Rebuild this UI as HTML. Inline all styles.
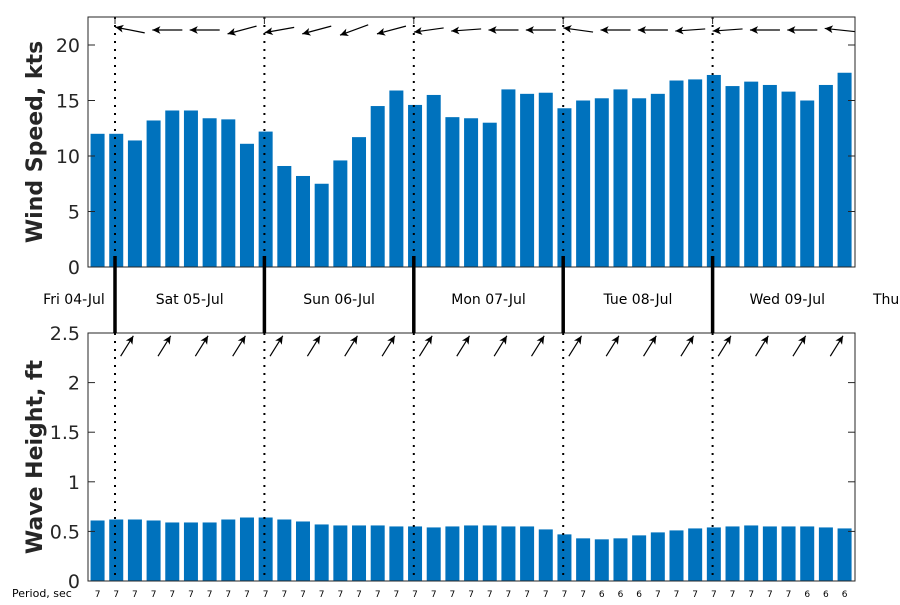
<!DOCTYPE html>
<html><head><meta charset="utf-8"><style>
body{margin:0;background:#fff;width:900px;height:600px;overflow:hidden}
svg{font-family:"DejaVu Sans","Liberation Sans",sans-serif}
</style></head><body>
<svg id="c" width="900" height="600" viewBox="0 0 900 600"></svg>
<script>
const windSpeed=[12.0,12.0,11.4,13.2,14.1,14.1,13.4,13.3,11.1,12.2,9.1,8.2,7.5,9.6,11.7,14.5,15.9,14.6,15.5,13.5,13.4,13.0,16.0,15.6,15.7,14.3,15.0,15.2,16.0,15.2,15.6,16.8,16.9,17.3,16.3,16.7,16.4,15.8,15.0,16.4,17.5];
const waveHeight=[0.61,0.62,0.62,0.61,0.59,0.59,0.59,0.62,0.64,0.64,0.62,0.60,0.57,0.56,0.56,0.56,0.55,0.55,0.54,0.55,0.56,0.56,0.55,0.55,0.52,0.47,0.43,0.42,0.43,0.46,0.49,0.51,0.53,0.54,0.55,0.56,0.55,0.55,0.55,0.54,0.53];
const periods=[7,7,7,7,7,7,7,7,7,7,7,7,7,7,7,7,7,7,7,7,7,7,7,7,7,7,7,6,6,6,7,7,7,7,7,7,7,7,6,6,6];
const windDir=[101,90,90,75,80,75,70,75,82,86,90,90,98,90,90,86,86,90,90,96];
const waveDir=[212,212,212,212,212,212,212,212,212,212,212,212,212,212,212,212,212,212,212,212];
const dayLabels=["Fri 04-Jul","Sat 05-Jul","Sun 06-Jul","Mon 07-Jul","Tue 08-Jul","Wed 09-Jul","Thu"];
const windTicks=[0,5,10,15,20];
const waveTicks=[0,0.5,1,1.5,2,2.5];

const NS="http://www.w3.org/2000/svg";
const svg=document.getElementById('c');
function el(t,a,p){const e=document.createElementNS(NS,t);for(const k in a)e.setAttribute(k,a[k]);(p||svg).appendChild(e);return e;}
const X0=88,X1=855;
const x=h=>115+h*(149.4/24); // hours from Sat 00:00
const barHour=i=>-2.8+3*i;
const yW=v=>267-v*11.1, yH=v=>581-v*99.2;
const BW=14;

// top axes
const gT=el('g',{});  
windSpeed.forEach((v,i)=>{const r=el('rect',{x:x(barHour(i))-BW/2,y:yW(v),width:BW,height:267-yW(v),fill:'#0072BD'},gT);
});
const gB=el('g',{});  
waveHeight.forEach((v,i)=>{const r=el('rect',{x:x(barHour(i))-BW/2,y:yH(v),width:BW,height:581-yH(v),fill:'#0072BD'},gB);
});
// boxes
el('rect',{x:X0,y:17,width:X1-X0,height:250,fill:'none',stroke:'#262626','stroke-width':1},gT);
el('rect',{x:X0,y:333,width:X1-X0,height:248,fill:'none',stroke:'#262626','stroke-width':1},gB);
// y ticks
windTicks.forEach(t=>{const y=yW(t);el('line',{x1:X0,x2:X0+7,y1:y,y2:y,stroke:'#262626'},gT);el('line',{x1:X1,x2:X1-7,y1:y,y2:y,stroke:'#262626'},gT);
const tx=el('text',{x:X0-8,y:y+7,'text-anchor':'end','font-size':19,fill:'#262626'},gT);tx.textContent=t;
});
waveTicks.forEach(t=>{const y=yH(t);el('line',{x1:X0,x2:X0+7,y1:y,y2:y,stroke:'#262626'},gB);el('line',{x1:X1,x2:X1-7,y1:y,y2:y,stroke:'#262626'},gB);
const tx=el('text',{x:X0-8,y:y+7,'text-anchor':'end','font-size':19,fill:'#262626'},gB);tx.textContent=t;
});
// y titles
let t1=el('text',{x:42,y:142,transform:'rotate(-90 42 142)','text-anchor':'middle','font-size':22,'font-weight':'bold',fill:'#262626'});t1.textContent='Wind Speed, kts';

let t2=el('text',{x:42,y:457,transform:'rotate(-90 42 457)','text-anchor':'middle','font-size':22,'font-weight':'bold',fill:'#262626'});t2.textContent='Wave Height, ft';

// day boundaries
for(let d=0;d<5;d++){const xx=x(24*d);
el('line',{x1:xx,x2:xx,y1:17,y2:267,stroke:'#000','stroke-dasharray':'2,6','stroke-width':2});
el('line',{x1:xx,x2:xx,y1:333,y2:581,stroke:'#000','stroke-dasharray':'2,6','stroke-width':2});
el('line',{x1:xx,x2:xx,y1:17,y2:24,stroke:'#262626'});
el('line',{x1:xx,x2:xx,y1:256,y2:333,stroke:'#000','stroke-width':3.5});}
// day labels
dayLabels.forEach((s,i)=>{let xx,anchor='middle';
if(i==0)xx=74; else if(i==6){xx=873;anchor='start';} else xx=x(24*(i-1)+12);
const tx=el('text',{x:xx,y:304,'text-anchor':anchor,'font-size':14,fill:'#000'});tx.textContent=s;
});
// arrows
function arrow(hx,hy,ang,len,parent,name){ // ang: screen direction of travel, radians
 const tx=hx-Math.cos(ang)*len, ty=hy-Math.sin(ang)*len;
 const g=el('g',{},parent);
 el('line',{x1:tx,y1:ty,x2:hx,y2:hy,stroke:'#000','stroke-width':1.2},g);
 const a1=ang+Math.PI-0.45,a2=ang+Math.PI+0.45,L=9;
 el('polygon',{points:`${hx},${hy} ${hx+Math.cos(a1)*L},${hy+Math.sin(a1)*L} ${hx+Math.cos(ang+Math.PI)*6},${hy+Math.sin(ang+Math.PI)*6} ${hx+Math.cos(a2)*L},${hy+Math.sin(a2)*L}`,fill:'#000'},g);
}
// meteorological "from" direction -> screen travel angle
const travel=d=>{const to=(d+180)*Math.PI/180;return Math.atan2(-Math.cos(to),Math.sin(to));};
windDir.forEach((d,k)=>{const a=travel(d);const cx=x(6*k)+15;
arrow(cx+Math.cos(a)*15,30+Math.sin(a)*15,a,30,gT,'wind-direction-arrow');});
waveDir.forEach((d,k)=>{const a=travel(d);const cx=x(6*k)+12,cy=346;
arrow(cx+Math.cos(a)*12,cy+Math.sin(a)*12,a,24,gB,'wave-direction-arrow');});
// periods
let pt=el('text',{x:12,y:597,'font-size':11,fill:'#000'});pt.textContent='Period, sec';

periods.forEach((p,i)=>{const tx=el('text',{x:x(barHour(i)),y:597,'text-anchor':'middle','font-size':9,fill:'#000'});tx.textContent=p;
});
</script>
</body></html>
